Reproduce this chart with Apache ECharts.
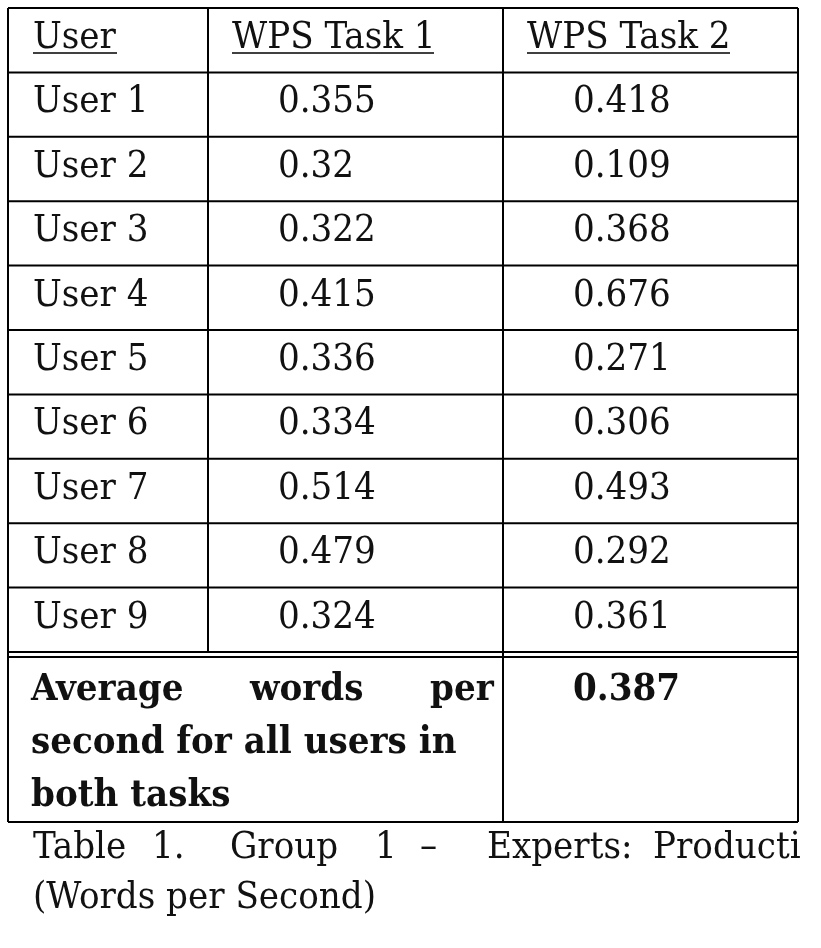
<!DOCTYPE html>
<html><head><meta charset="utf-8">
<script src="https://cdn.jsdelivr.net/npm/echarts@6/dist/echarts.min.js"></script>
<style>html,body{margin:0;padding:0;background:#fff}#chart{width:821px;height:948px}</style>
</head><body><div id="chart"></div>
<script>
// table content
const headers = ['User', 'WPS Task 1', 'WPS Task 2'];
const users = ['User 1', 'User 2', 'User 3', 'User 4', 'User 5', 'User 6', 'User 7', 'User 8', 'User 9'];
const task1 = ['0.355', '0.32', '0.322', '0.415', '0.336', '0.334', '0.514', '0.479', '0.324'];
const task2 = ['0.418', '0.109', '0.368', '0.676', '0.271', '0.306', '0.493', '0.292', '0.361'];
const averageLabel = [['Average', 'words', 'per'], ['second for all users in'], ['both tasks']];
const averageValue = '0.387';
const caption = [['Table', '1.', 'Group', '1', '\u2013', 'Experts:', 'Producti'], ['(Words per Second)']];

// layout
const colEdges = [8, 208, 503, 798];
const textX = [33, 278, 573];
const headTextX = [33, 232, 527];
const underlineW = [84, 202, 203];
const rowTop = 8, rowH = 64.4;
const avgTop = 657, avgBottom = 822;
const avgWordX = [31, 250, 430];
const capWordX = [33, 152, 230, 375, 420, 487, 653];
const font = '"DejaVu Serif Condensed", "DejaVu Serif", serif';

const chart = echarts.init(document.getElementById('chart'));

function renderTable(params, api) {
  const P = (x, y) => api.coord([x, y]);
  const kids = [];
  const line = (x1, y1, x2, y2, w) => {
    const a = P(x1, y1), b = P(x2, y2);
    kids.push({type: 'line', shape: {x1: a[0], y1: a[1], x2: b[0], y2: b[1]}, style: {stroke: '#000', lineWidth: w || 2}});
  };
  const txt = (s, x, y, bold) => {
    const p = P(x, y);
    kids.push({type: 'text', x: p[0], y: p[1], style: {text: s, fill: '#111', font: (bold ? 'bold ' : '') + '38px ' + font, textVerticalAlign: 'middle'}});
  };
  const nRows = users.length + 1;
  const lastTop = rowTop + nRows * rowH;
  for (let i = 0; i <= nRows; i++) line(colEdges[0], rowTop + i * rowH, colEdges[3], rowTop + i * rowH);
  line(colEdges[0], avgTop, colEdges[3], avgTop);
  line(colEdges[0], avgBottom, colEdges[3], avgBottom);
  [0, 3].forEach(c => line(colEdges[c], rowTop, colEdges[c], avgBottom));
  line(colEdges[1], rowTop, colEdges[1], lastTop);
  line(colEdges[2], rowTop, colEdges[2], avgBottom);
  headers.forEach((h, c) => {
    txt(h, headTextX[c], rowTop + rowH / 2 - 2);
    line(headTextX[c], rowTop + 45, headTextX[c] + underlineW[c], rowTop + 45, 1.5);
  });
  users.forEach((u, i) => {
    const y = rowTop + (i + 1) * rowH + rowH / 2 - 2;
    txt(u, textX[0], y);
    txt(task1[i], textX[1], y);
    txt(task2[i], textX[2], y);
  });
  averageLabel.forEach((words, i) => words.forEach((w, j) => txt(w, words.length > 1 ? avgWordX[j] : 31, avgTop + 33 + i * 53, true)));
  txt(averageValue, textX[2], avgTop + 33, true);
  caption.forEach((words, i) => words.forEach((w, j) => txt(w, words.length > 1 ? capWordX[j] : 33, avgBottom + 26 + i * 50)));
  return {type: 'group', children: kids};
}

chart.setOption({
  animation: false,
  grid: {left: 0, right: 0, top: 0, bottom: 0},
  xAxis: {type: 'value', min: 0, max: 821, show: false},
  yAxis: {type: 'value', min: 0, max: 948, inverse: true, show: false},
  series: [{type: 'custom', renderItem: renderTable, data: [[0, 0]], silent: true}]
});
</script></body></html>
